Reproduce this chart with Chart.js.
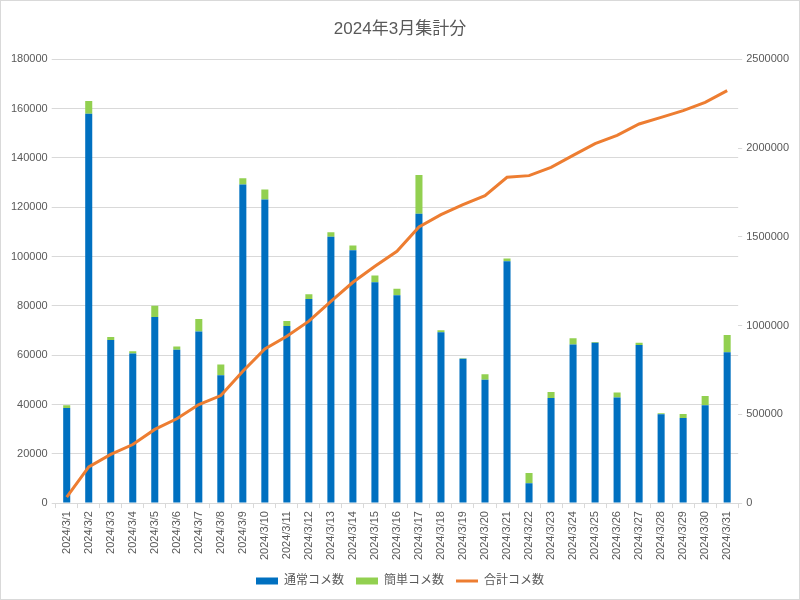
<!DOCTYPE html>
<html>
<head>
<meta charset="utf-8">
<script src="https://cdn.jsdelivr.net/npm/chart.js@4.4.1/dist/chart.umd.min.js"></script>
<style>
  html, body { margin: 0; padding: 0; background: #fff; }
  #wrap { position: relative; width: 798px; height: 598px; border: 1px solid #d9d9d9; }
</style>
</head>
<body>
<div id="wrap"><canvas id="chart" width="798" height="598"></canvas></div>
<script>
// 日付ラベル
const labels = [];
const days = ['1','2','3','4','5','6','7','8','9','10','11','12','13','14','15','16','17','18','19','20','21','22','23','24','25','26','27','28','29','30','31'];
days.forEach(d => labels.push('2024/3/' + d));

// 通常コメ数
const normalCounts = [38600, 158000, 66200, 60700, 75500, 62200, 69600, 51900, 129200, 123200,
                      71800, 82800, 108000, 102600, 89600, 84300, 117400, 69300, 58500, 50000,
                      98100, 8000, 42600, 64300, 65000, 42800, 64100, 36000, 34500, 39700, 61200];
// 簡単コメ数
const simpleCounts = [1100, 5100, 1200, 900, 4600, 1300, 5100, 4300, 2600, 4000,
                      2100, 1900, 1900, 1900, 2700, 2600, 15700, 800, 300, 2300,
                      1100, 4200, 2500, 2600, 300, 2100, 900, 400, 1600, 3700, 7000];
// 合計コメ数 (累計)
const totalCounts = [34000, 204000, 274000, 330000, 415000, 475000, 555000, 606000, 743000, 869000,
                     940000, 1025000, 1137000, 1244000, 1334000, 1419000, 1556000, 1625000, 1682000, 1732000,
                     1836000, 1845000, 1892000, 1959000, 2025000, 2072000, 2136000, 2173000, 2211000, 2258000, 2324000];

const FONT = '"Liberation Sans", "Noto Sans CJK JP", sans-serif';
const TXT = '#595959';

new Chart(document.getElementById('chart'), {
    type: 'bar',
    data: {
        labels: labels,
        datasets: [
            {
                label: '通常コメ数',
                data: normalCounts,
                backgroundColor: '#0070c0',
                borderWidth: 0,
                barPercentage: 0.32,
                categoryPercentage: 1,
                yAxisID: 'y',
                order: 2
            },
            {
                label: '簡単コメ数',
                data: simpleCounts,
                backgroundColor: '#92d050',
                borderWidth: 0,
                barPercentage: 0.32,
                categoryPercentage: 1,
                yAxisID: 'y',
                order: 3
            },
            {
                type: 'line',
                label: '合計コメ数',
                data: totalCounts,
                borderColor: '#ed7d31',
                backgroundColor: '#ed7d31',
                borderWidth: 3,
                pointRadius: 0,
                tension: 0,
                yAxisID: 'y1',
                order: 1
            }
        ]
    },
    options: {
        responsive: false,
        animation: false,
        layout: { padding: { left: 6, right: 6, top: 10, bottom: 2 } },
        plugins: {
            title: {
                display: true,
                text: '2024年3月集計分',
                color: TXT,
                font: { family: FONT, size: 17, weight: 'normal' },
                padding: { top: 8, bottom: 20 }
            },
            legend: {
                position: 'bottom',
                labels: {
                    color: TXT,
                    font: { family: FONT, size: 12 },
                    usePointStyle: true,
                    pointStyleWidth: 22,
                    boxHeight: 7,
                    padding: 12,
                    sort: (a, b) => a.datasetIndex - b.datasetIndex,
                    generateLabels: chart => {
                        const items = Chart.defaults.plugins.legend.labels.generateLabels(chart);
                        items.forEach(it => {
                            it.pointStyle = it.datasetIndex === 2 ? 'line' : 'rect';
                            if (it.datasetIndex !== 2) it.lineWidth = 0;
                        });
                        return items;
                    }
                }
            },
            tooltip: { enabled: false }
        },
        scales: {
            x: {
                stacked: true,
                grid: { drawOnChartArea: false, drawTicks: true, tickLength: 5, color: '#d9d9d9' },
                border: { color: '#d9d9d9' },
                ticks: {
                    color: TXT,
                    font: { family: FONT, size: 11 },
                    minRotation: 90,
                    maxRotation: 90,
                    autoSkip: false
                }
            },
            y: {
                stacked: true,
                position: 'left',
                min: 0,
                max: 180000,
                ticks: { stepSize: 20000, color: TXT, font: { family: FONT, size: 11 }, padding: 4,
                         callback: v => String(v) },
                grid: { color: '#d9d9d9', tickLength: 4 },
                border: { display: false }
            },
            y1: {
                position: 'right',
                min: 0,
                max: 2500000,
                ticks: { stepSize: 500000, color: TXT, font: { family: FONT, size: 11 }, padding: 4,
                         callback: v => String(v) },
                grid: { drawOnChartArea: false, color: '#d9d9d9', tickLength: 4 },
                border: { display: false }
            }
        }
    }
});
</script>
</body>
</html>
